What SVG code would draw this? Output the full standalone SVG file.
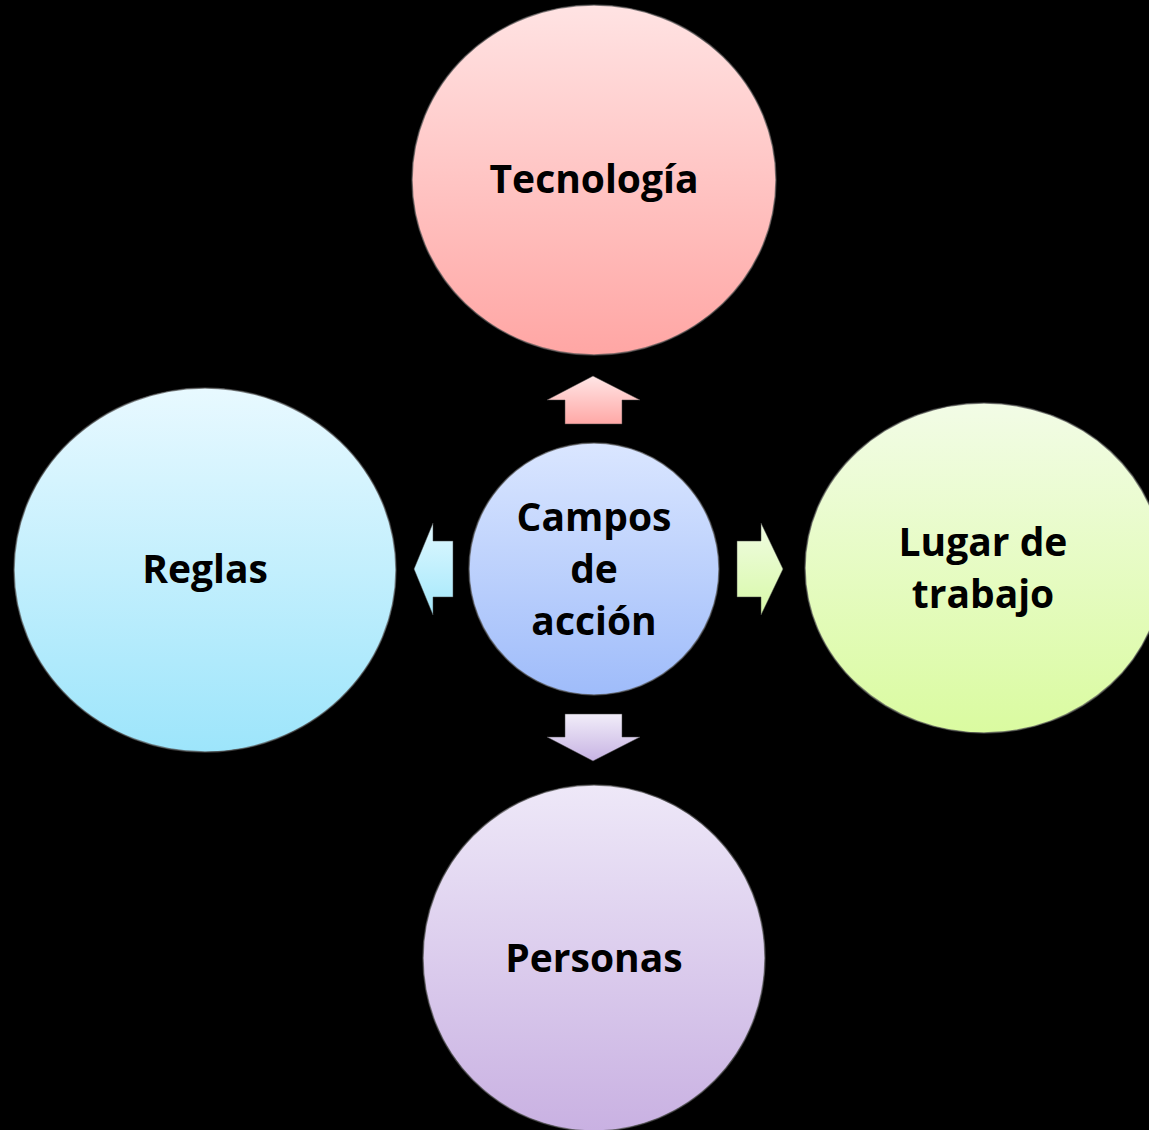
<svg xmlns="http://www.w3.org/2000/svg" width="1149" height="1130" viewBox="0 0 1149 1130">
<defs>
<linearGradient id="gRed" x1="0" y1="0" x2="0" y2="1"><stop offset="0" stop-color="#ffe3e3"/><stop offset="1" stop-color="#ffa6a4"/></linearGradient>
<linearGradient id="gBlue" x1="0" y1="0" x2="0" y2="1"><stop offset="0" stop-color="#e8f9ff"/><stop offset="1" stop-color="#9de5fb"/></linearGradient>
<linearGradient id="gGreen" x1="0" y1="0" x2="0" y2="1"><stop offset="0" stop-color="#f2fce6"/><stop offset="1" stop-color="#dafba0"/></linearGradient>
<linearGradient id="gPurple" x1="0" y1="0" x2="0" y2="1"><stop offset="0" stop-color="#eee8f8"/><stop offset="1" stop-color="#c9b1e2"/></linearGradient>
<linearGradient id="gCenter" x1="0" y1="0" x2="0" y2="1"><stop offset="0" stop-color="#dae6ff"/><stop offset="1" stop-color="#9fbcfa"/></linearGradient>
<linearGradient id="aRed" x1="0" y1="0" x2="0" y2="1"><stop offset="0" stop-color="#ffe6e6"/><stop offset="1" stop-color="#ffa8a6"/></linearGradient>
<linearGradient id="aBlue" x1="0" y1="0" x2="0" y2="1"><stop offset="0" stop-color="#e0f8ff"/><stop offset="1" stop-color="#a3e8fb"/></linearGradient>
<linearGradient id="aGreen" x1="0" y1="0" x2="0" y2="1"><stop offset="0" stop-color="#f0fce2"/><stop offset="1" stop-color="#d8f9a8"/></linearGradient>
<linearGradient id="aPurple" x1="0" y1="0" x2="0" y2="1"><stop offset="0" stop-color="#f1edf9"/><stop offset="1" stop-color="#c7b3e3"/></linearGradient>
</defs>
<style>
.node ellipse{stroke:#555;stroke-width:1.5;stroke-opacity:0.7}
.arrow{stroke:#444;stroke-width:1;stroke-opacity:0.5}
text{font-family:"Open Sans","DejaVu Sans",sans-serif;font-weight:bold;font-size:39px;fill:#000;text-anchor:middle}
</style>
<rect width="1149" height="1130" fill="#000"/>
<g id="connectors">
<polygon class="arrow" fill="url(#aRed)" points="593,376 640,400 622,400 622,424 565,424 565,400 547,400"/>
<polygon class="arrow" fill="url(#aBlue)" points="414,569 433,523 433,541 453,541 453,597 433,597 433,615"/>
<polygon class="arrow" fill="url(#aGreen)" points="783,569 761,523 761,541 737,541 737,597 761,597 761,615"/>
<polygon class="arrow" fill="url(#aPurple)" points="593,761 640,737 622,737 622,714 565,714 565,737 547,737"/>
</g>
<g id="node-tecnologia" class="node">
<ellipse cx="594" cy="180" rx="182" ry="175" fill="url(#gRed)"/>
<text x="594" y="193">Tecnología</text>
</g>
<g id="node-reglas" class="node">
<ellipse cx="205" cy="570" rx="191" ry="182" fill="url(#gBlue)"/>
<text x="205" y="583">Reglas</text>
</g>
<g id="node-lugar" class="node">
<ellipse cx="984" cy="568" rx="179" ry="165" fill="url(#gGreen)"/>
<text x="983" y="556">Lugar de</text>
<text x="983" y="608">trabajo</text>
</g>
<g id="node-personas" class="node">
<ellipse cx="594" cy="958" rx="171" ry="173" fill="url(#gPurple)"/>
<text x="594" y="972">Personas</text>
</g>
<g id="node-campos" class="node">
<ellipse cx="594" cy="569" rx="125" ry="126" fill="url(#gCenter)"/>
<text x="594" y="531">Campos</text>
<text x="594" y="583">de</text>
<text x="594" y="635">acción</text>
</g>
</svg>
